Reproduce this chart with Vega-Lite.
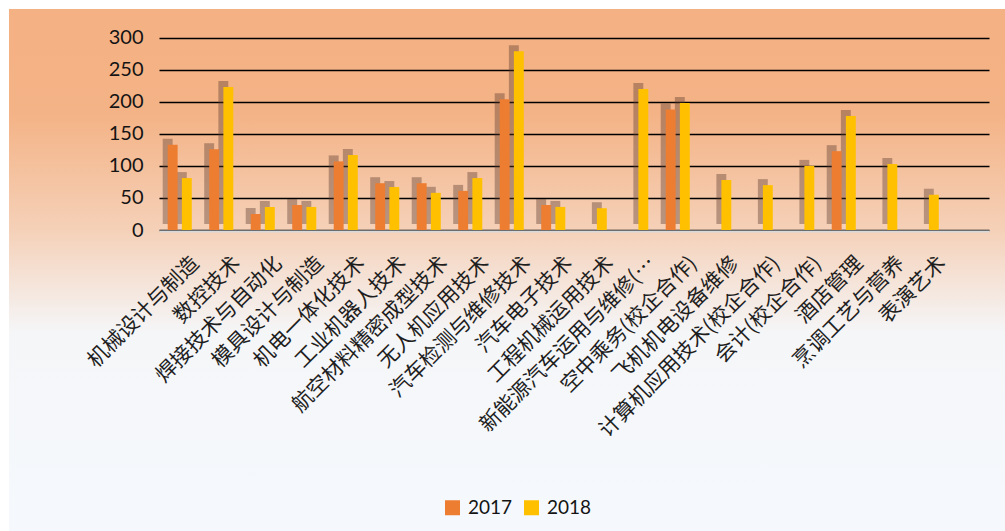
{
  "$schema": "https://vega.github.io/schema/vega-lite/v6.json",
  "width": 996,
  "height": 522,
  "padding": {"left": 9, "top": 9, "right": 0, "bottom": 0},
  "autosize": {"type": "none"},
  "background": "white",
  "config": {
    "view": {
      "stroke": null,
      "fill": {
        "gradient": "linear", "x1": 0, "y1": 0, "x2": 0, "y2": 1,
        "stops": [
          {"offset": 0, "color": "#F4B183"},
          {"offset": 0.2, "color": "#F4B386"},
          {"offset": 0.42, "color": "#F5D0B7"},
          {"offset": 0.62, "color": "#F5F6F8"},
          {"offset": 1, "color": "#F5F9FD"}
        ]
      }
    },
    "axisX": {
      "title": null, "orient": "bottom", "offset": -300,
      "labelAngle": -45, "labelAlign": "right", "labelBaseline": "middle",
      "labelOffset": 16, "labelPadding": 29, "ticks": false, "tickSize": 0,
      "labelFont": "Noto Sans CJK SC", "labelFontSize": 21, "labelColor": "#1e1e1e",
      "labelLimit": 0, "labelOverlap": false,
      "domain": true, "domainColor": "#D9D9D9", "domainWidth": 2, "grid": false
    },
    "axisY": {
      "title": null, "orient": "left", "offset": 0,
      "ticks": false, "tickSize": 0, "domain": false, "labelPadding": -134,
      "labelFont": "Lato", "labelFontSize": 20, "labelColor": "#141414",
      "labelBaseline": "middle", "labelAlign": "right",
      "grid": true, "gridColor": "#000000", "gridWidth": 1.3
    }
  },
  "datasets": {
    "bars": [
      {"major": "机械设计与制造", "year": "2017", "value": 133},
      {"major": "机械设计与制造", "year": "2018", "value": 81},
      {"major": "数控技术", "year": "2017", "value": 126},
      {"major": "数控技术", "year": "2018", "value": 223},
      {"major": "焊接技术与自动化", "year": "2017", "value": 25},
      {"major": "焊接技术与自动化", "year": "2018", "value": 36},
      {"major": "模具设计与制造", "year": "2017", "value": 39},
      {"major": "模具设计与制造", "year": "2018", "value": 36},
      {"major": "机电一体化技术", "year": "2017", "value": 107},
      {"major": "机电一体化技术", "year": "2018", "value": 117},
      {"major": "工业机器人技术", "year": "2017", "value": 73},
      {"major": "工业机器人技术", "year": "2018", "value": 67},
      {"major": "航空材料精密成型技术", "year": "2017", "value": 73},
      {"major": "航空材料精密成型技术", "year": "2018", "value": 58},
      {"major": "无人机应用技术", "year": "2017", "value": 61},
      {"major": "无人机应用技术", "year": "2018", "value": 81},
      {"major": "汽车检测与维修技术", "year": "2017", "value": 204},
      {"major": "汽车检测与维修技术", "year": "2018", "value": 279},
      {"major": "汽车电子技术", "year": "2017", "value": 39},
      {"major": "汽车电子技术", "year": "2018", "value": 36},
      {"major": "工程机械运用技术", "year": "2018", "value": 34},
      {"major": "新能源汽车运用与维修(…", "year": "2018", "value": 220},
      {"major": "空中乘务(校企合作)", "year": "2017", "value": 188},
      {"major": "空中乘务(校企合作)", "year": "2018", "value": 198},
      {"major": "飞机机电设备维修", "year": "2018", "value": 78},
      {"major": "计算机应用技术(校企合作)", "year": "2018", "value": 70},
      {"major": "会计(校企合作)", "year": "2018", "value": 100},
      {"major": "酒店管理", "year": "2017", "value": 123},
      {"major": "酒店管理", "year": "2018", "value": 178},
      {"major": "烹调工艺与营养", "year": "2018", "value": 103},
      {"major": "表演艺术", "year": "2018", "value": 55}
    ]
  },
  "data": {"name": "bars"},
  "layer": [
    {
      "mark": {"type": "bar", "color": "#5a3a2e", "opacity": 0.4, "yOffset": -6},
      "encoding": {
        "x": {
          "field": "major", "type": "nominal",
          "scale": {
            "domain": ["机械设计与制造", "数控技术", "焊接技术与自动化", "模具设计与制造", "机电一体化技术", "工业机器人技术", "航空材料精密成型技术", "无人机应用技术", "汽车检测与维修技术", "汽车电子技术", "工程机械运用技术", "新能源汽车运用与维修(…", "空中乘务(校企合作)", "飞机机电设备维修", "计算机应用技术(校企合作)", "会计(校企合作)", "酒店管理", "烹调工艺与营养", "表演艺术"],
            "range": [150, 980], "paddingInner": 0.42, "paddingOuter": 0.71, "align": 0.148
          }
        },
        "xOffset": {
          "field": "year", "type": "nominal",
          "scale": {"domain": ["2017", "2018"], "range": [-5, 19.07], "paddingInner": 0.3, "paddingOuter": 0}
        },
        "y": {
          "field": "value", "type": "quantitative",
          "scale": {"domain": [0, 300], "range": [221, 28.7], "nice": false, "zero": true},
          "axis": {"values": [0, 50, 100, 150, 200, 250, 300]}
        }
      }
    },
    {
      "mark": {"type": "bar"},
      "encoding": {
        "x": {
          "field": "major", "type": "nominal",
          "scale": {
            "domain": ["机械设计与制造", "数控技术", "焊接技术与自动化", "模具设计与制造", "机电一体化技术", "工业机器人技术", "航空材料精密成型技术", "无人机应用技术", "汽车检测与维修技术", "汽车电子技术", "工程机械运用技术", "新能源汽车运用与维修(…", "空中乘务(校企合作)", "飞机机电设备维修", "计算机应用技术(校企合作)", "会计(校企合作)", "酒店管理", "烹调工艺与营养", "表演艺术"],
            "range": [150, 980], "paddingInner": 0.42, "paddingOuter": 0.71, "align": 0.148
          }
        },
        "xOffset": {
          "field": "year", "type": "nominal",
          "scale": {"domain": ["2017", "2018"], "paddingInner": 0.3, "paddingOuter": 0}
        },
        "y": {
          "field": "value", "type": "quantitative",
          "scale": {"domain": [0, 300], "range": [221, 28.7], "nice": false, "zero": true},
          "axis": {"values": [0, 50, 100, 150, 200, 250, 300]}
        },
        "color": {
          "field": "year", "type": "nominal",
          "scale": {"domain": ["2017", "2018"], "range": ["#ED7D31", "#FFC000"]},
          "legend": {
            "title": null, "orient": "none", "direction": "horizontal",
            "legendX": 434, "legendY": 489, "padding": 0,
            "symbolType": "square", "symbolSize": 225, "symbolStrokeWidth": 0,
            "labelFont": "Lato", "labelFontSize": 19, "labelColor": "#141414",
            "labelOffset": 6, "columnPadding": 9
          }
        }
      }
    }
  ],
  "resolve": {"scale": {"xOffset": "independent"}}
}
